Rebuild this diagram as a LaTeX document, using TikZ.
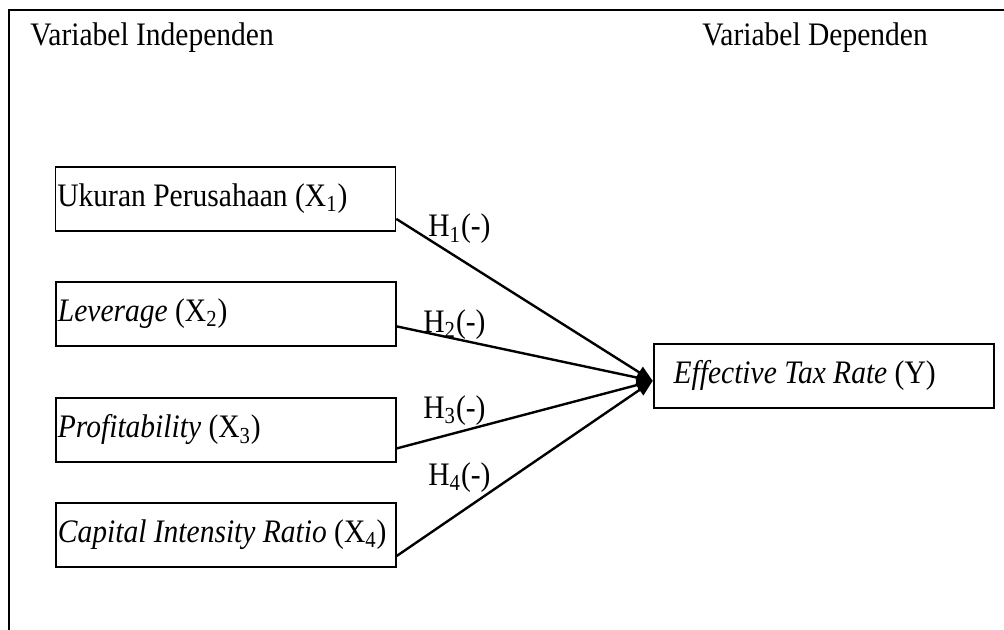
\documentclass[tikz,border=0pt]{standalone}
\usepackage{fontspec}
\setmainfont{Liberation Serif}[FakeStretch=0.9]
\usetikzlibrary{arrows.meta}
\newcommand{\lbox}[2]{\makebox[#1][l]{#2}}
\begin{document}
\begin{tikzpicture}[x=0.5pt,y=-0.5pt,
  every node/.style={font=\fontsize{16.4}{19}\selectfont},
  varbox/.style={draw, line width=0.9pt, minimum width=170pt, minimum height=32pt,
    inner xsep=1pt, inner ysep=0pt, anchor=north west},
  link/.style={line width=1.2pt, -{Triangle[length=8pt,width=6.5pt]}},
  hlabel/.style={anchor=base west, inner sep=0pt},
  heading/.style={anchor=base west, inner sep=0pt}]
\useasboundingbox (0,0) rectangle (1004,630);
\draw[line width=1pt] (8.5,630) -- (8.5,10.5) -- (1004,10.5);

\node[heading] (indep) at (30,46) {Variabel Independen};
\node[heading] (dep) at (702,46) {Variabel Dependen};

\node[varbox] (x1) at (54.5,166) {\lbox{168pt}{Ukuran Perusahaan (X\textsubscript{1})}};
\node[varbox] (x2) at (55,281) {\lbox{168pt}{\textit{Leverage} (X\textsubscript{2})}};
\node[varbox] (x3) at (55,397) {\lbox{168pt}{\textit{Profitability} (X\textsubscript{3})}};
\node[varbox] (x4) at (55,502) {\lbox{168pt}{\textit{Capital Intensity Ratio} (X\textsubscript{4})}};
\node[varbox, inner xsep=10pt] (y) at (652.7,342.7) {\lbox{150pt}{\textit{Effective Tax Rate} (Y)}};

\draw[link] ([yshift=-10pt]x1.east) -- ([yshift=-2.65pt]y.west);
\draw[link] ([yshift=-6.25pt]x2.east) -- ([yshift=-2.65pt]y.west);
\draw[link] ([yshift=-9.25pt]x3.east) -- ([yshift=-2.65pt]y.west);
\draw[link] ([yshift=-10.5pt]x4.east) -- ([yshift=-2.65pt]y.west);

\node[hlabel] (h1) at (428,237) {H\textsubscript{1}(-)};
\node[hlabel] (h2) at (423,332) {H\textsubscript{2}(-)};
\node[hlabel] (h3) at (423,418) {H\textsubscript{3}(-)};
\node[hlabel] (h4) at (428,485) {H\textsubscript{4}(-)};
\end{tikzpicture}
\end{document}
